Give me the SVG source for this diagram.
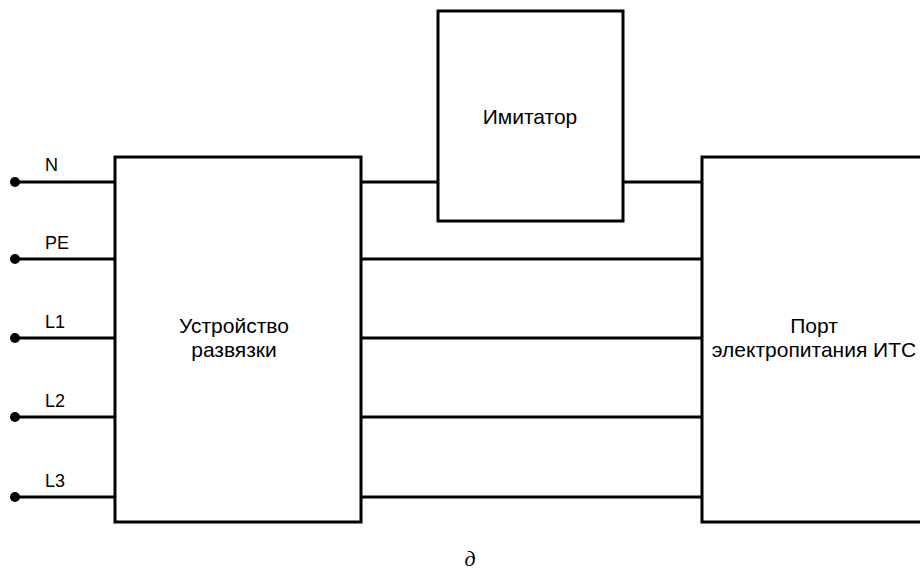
<svg xmlns="http://www.w3.org/2000/svg" width="920" height="574" viewBox="0 0 920 574">
<style>
.box{fill:#fff;stroke:#000;stroke-width:3}
.w{stroke:#000;stroke-width:3;fill:none}
.t{font-family:"Liberation Sans",Arial,sans-serif;font-size:21px;fill:#000;text-anchor:middle}
.l{font-family:"Liberation Sans",Arial,sans-serif;font-size:18px;fill:#000}
</style>
<rect width="920" height="574" fill="#fff"/>
<g id="connectors">
<path class="w" d="M15 182H115M15 259H115M15 338H115M15 417H115M15 497H115"/>
<path class="w" d="M361 182H438M623 182H702M361 259H702M361 338H702M361 417H702M361 497H702"/>
<circle cx="15" cy="182" r="5"/>
<circle cx="15" cy="259" r="5"/>
<circle cx="15" cy="338" r="5"/>
<circle cx="15" cy="417" r="5"/>
<circle cx="15" cy="497" r="5"/>
<text class="l" x="45" y="171">N</text>
<text class="l" x="45" y="249">PE</text>
<text class="l" x="45" y="328">L1</text>
<text class="l" x="45" y="407">L2</text>
<text class="l" x="45" y="487">L3</text>
</g>
<g id="decoupler">
<rect class="box" x="115" y="157" width="246" height="365"/>
<text class="t" x="234" y="333">Устройство</text>
<text class="t" x="234" y="357">развязки</text>
</g>
<g id="imitator">
<rect class="box" x="438" y="11" width="185" height="210"/>
<text class="t" x="530" y="124">Имитатор</text>
</g>
<g id="port">
<rect class="box" x="702" y="157" width="225" height="365"/>
<text class="t" x="814" y="333">Порт</text>
<text class="t" x="814" y="357">электропитания ИТС</text>
</g>
<text x="470" y="566" style="font-family:'Liberation Serif',serif;font-style:italic;font-size:22px;text-anchor:middle">д</text>
</svg>
